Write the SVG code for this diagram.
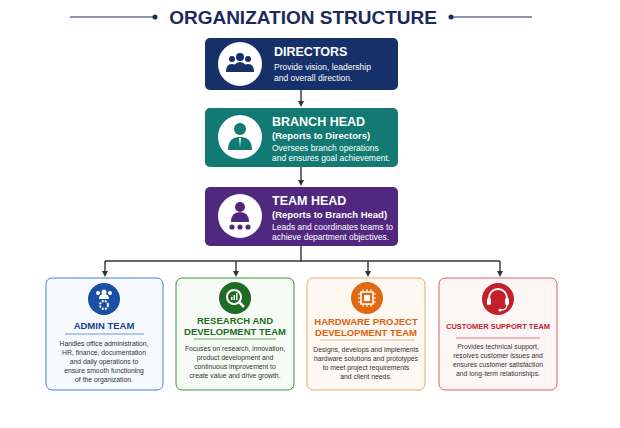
<svg xmlns="http://www.w3.org/2000/svg" width="620" height="428" viewBox="0 0 620 428">
<defs>
<style>
text{font-family:"Liberation Sans",Arial,sans-serif}
.t{font-weight:bold;fill:#fff;font-size:12.5px}
.s{fill:#fff;font-size:8.5px}
.sb{fill:#fff;font-size:9.5px;font-weight:bold}
.bt{font-weight:bold;font-size:9.5px;text-anchor:middle}
.d{font-size:6.8px;fill:#333;text-anchor:middle}
.c{stroke:#333;stroke-width:1.4;fill:none}
</style>
<marker id="a" markerWidth="6" markerHeight="6" refX="3" refY="3" orient="auto" markerUnits="userSpaceOnUse"><path d="M0,0 L6,3 L0,6 Z" fill="#333"/></marker>
</defs>
<rect width="620" height="428" fill="#fff"/>
<g id="title">
<line x1="70" y1="17" x2="154" y2="17" stroke="#1b2a5e" stroke-width="1.2"/>
<circle cx="155" cy="17" r="2.5" fill="#1b2a5e"/>
<line x1="451" y1="17" x2="532" y2="17" stroke="#1b2a5e" stroke-width="1.2"/>
<circle cx="451" cy="17" r="2.5" fill="#1b2a5e"/>
<text x="303" y="24" text-anchor="middle" font-size="19" font-weight="bold" fill="#1b2a5e">ORGANIZATION STRUCTURE</text>
</g>
<g id="connectors">
<line class="c" x1="301" y1="89" x2="301" y2="104" marker-end="url(#a)"/>
<line class="c" x1="301" y1="167" x2="301" y2="183" marker-end="url(#a)"/>
<line class="c" x1="301" y1="246" x2="301" y2="261"/>
<line class="c" x1="105" y1="261" x2="500" y2="261"/>
<line class="c" x1="105" y1="261" x2="105" y2="274" marker-end="url(#a)"/>
<line class="c" x1="236" y1="261" x2="236" y2="274" marker-end="url(#a)"/>
<line class="c" x1="368" y1="261" x2="368" y2="274" marker-end="url(#a)"/>
<line class="c" x1="500" y1="261" x2="500" y2="274" marker-end="url(#a)"/>
</g>
<g id="directors">
<rect x="205" y="38" width="193" height="52" rx="5" fill="#16306a"/>
<circle cx="240" cy="64" r="22" fill="#fff"/>
<g fill="#16306a"><circle cx="240" cy="57" r="4"/><circle cx="232" cy="59" r="3"/><circle cx="248" cy="59" r="3"/><path d="M233,72 q0,-10 7,-10 q7,0 7,10 z"/><path d="M226,72 q0,-8 6,-8 q3,0 4,2 l-2,6 z"/><path d="M254,72 q0,-8 -6,-8 q-3,0 -4,2 l2,6 z"/></g>
<text class="t" x="274" y="56">DIRECTORS</text>
<text class="s" x="274" y="70">Provide vision, leadership</text>
<text class="s" x="274" y="81">and overall direction.</text>
</g>
<g id="branch">
<rect x="205" y="108" width="193" height="59" rx="5" fill="#127a72"/>
<circle cx="240" cy="137" r="22" fill="#fff"/>
<g fill="#127a72"><circle cx="240" cy="129" r="6"/><path d="M228,150 q0,-13 12,-13 q12,0 12,13 z"/></g>
<path d="M239,138 l1,9 l1,-9 z" fill="#fff"/>
<text class="t" x="272" y="126">BRANCH HEAD</text>
<text class="sb" x="272" y="139">(Reports to Directors)</text>
<text class="s" x="272" y="151">Oversees branch operations</text>
<text class="s" x="272" y="161">and ensures goal achievement.</text>
</g>
<g id="teamhead">
<rect x="205" y="187" width="193" height="59" rx="5" fill="#51287f"/>
<circle cx="240" cy="216" r="22" fill="#fff"/>
<g fill="#51287f"><circle cx="240" cy="207" r="5"/><path d="M231,222 q0,-10 9,-10 q9,0 9,10 z"/><circle cx="232" cy="227" r="2.6"/><circle cx="240" cy="227" r="2.6"/><circle cx="248" cy="227" r="2.6"/></g>
<text class="t" x="272" y="205">TEAM HEAD</text>
<text class="sb" x="272" y="218">(Reports to Branch Head)</text>
<text class="s" x="272" y="230">Leads and coordinates teams to</text>
<text class="s" x="272" y="240">achieve department objectives.</text>
</g>
<g id="admin">
<rect x="46" y="278" width="117" height="112" rx="6" fill="#f6f9fe" stroke="#4a7fd0" stroke-width="1"/>
<circle cx="104" cy="299" r="16" fill="#1a4fa3"/>
<g fill="#fff"><circle cx="104" cy="292" r="2.5"/><circle cx="98" cy="293" r="2"/><circle cx="110" cy="293" r="2"/><path d="M99,299 q0,-5 5,-5 q5,0 5,5z"/><circle cx="104" cy="305" r="4" fill="none" stroke="#fff" stroke-width="2" stroke-dasharray="2 1.2"/></g>
<text class="bt" x="104" y="329" fill="#1a3f8f">ADMIN TEAM</text>
<line x1="65" y1="334" x2="144" y2="334" stroke="#4a7fd0" stroke-width="0.8"/>
<text class="d" x="104" y="346">Handles office administration,</text>
<text class="d" x="104" y="355">HR, finance, documentation</text>
<text class="d" x="104" y="364">and daily operations to</text>
<text class="d" x="104" y="373">ensure smooth functioning</text>
<text class="d" x="104" y="382">of the organization.</text>
</g>
<g id="rnd">
<rect x="176" y="278" width="118" height="112" rx="6" fill="#f6fbf5" stroke="#3f8f3f" stroke-width="1"/>
<circle cx="235" cy="298" r="16" fill="#1f6b25"/>
<circle cx="234" cy="297" r="7" fill="none" stroke="#fff" stroke-width="2"/>
<line x1="239" y1="302" x2="244" y2="307" stroke="#fff" stroke-width="2.5"/>
<g fill="#fff"><rect x="231" y="297" width="1.5" height="3"/><rect x="233.5" y="295" width="1.5" height="5"/><rect x="236" y="293" width="1.5" height="7"/></g>
<text class="bt" x="235" y="324" fill="#1f6b25">RESEARCH AND</text>
<text class="bt" x="235" y="335" fill="#1f6b25">DEVELOPMENT TEAM</text>
<line x1="194" y1="339" x2="276" y2="339" stroke="#3f8f3f" stroke-width="0.8"/>
<text class="d" x="235" y="351">Focuses on research, innovation,</text>
<text class="d" x="235" y="360">product development and</text>
<text class="d" x="235" y="369">continuous improvement to</text>
<text class="d" x="235" y="378">create value and drive growth.</text>
</g>
<g id="hardware">
<rect x="307" y="278" width="118" height="112" rx="6" fill="#fef8f2" stroke="#f0a868" stroke-width="1"/>
<circle cx="367" cy="298" r="16" fill="#e06a12"/>
<rect x="361" y="292" width="12" height="12" fill="none" stroke="#fff" stroke-width="1.5"/>
<rect x="364" y="295" width="6" height="6" fill="#fff"/>
<g stroke="#fff" stroke-width="1"><path d="M363,289v3M367,289v3M371,289v3M363,304v3M367,304v3M371,304v3M358,294h3M358,298h3M358,302h3M373,294h3M373,298h3M373,302h3"/></g>
<text class="bt" x="366" y="325" fill="#d9630f">HARDWARE PROJECT</text>
<text class="bt" x="366" y="336" fill="#d9630f">DEVELOPMENT TEAM</text>
<line x1="320" y1="340" x2="415" y2="340" stroke="#f0a868" stroke-width="0.8"/>
<text class="d" x="366" y="352">Designs, develops and implements</text>
<text class="d" x="366" y="361">hardware solutions and prototypes</text>
<text class="d" x="366" y="370">to meet project requirements</text>
<text class="d" x="366" y="379">and client needs.</text>
</g>
<g id="support">
<rect x="439" y="278" width="118" height="112" rx="6" fill="#fdf6f6" stroke="#d9606a" stroke-width="1"/>
<circle cx="498" cy="299" r="16" fill="#c4202b"/>
<path d="M489,302 v-4 a9,9 0 0 1 18,0 v4" fill="none" stroke="#fff" stroke-width="2"/>
<rect x="487" y="298" width="4" height="7" rx="1.5" fill="#fff"/><rect x="505" y="298" width="4" height="7" rx="1.5" fill="#fff"/>
<path d="M507,305 q0,5 -6,5" fill="none" stroke="#fff" stroke-width="1.3"/><circle cx="500" cy="310" r="1.5" fill="#fff"/>
<text class="bt" x="498" y="329" fill="#c4202b" style="font-size:8px" textLength="104" lengthAdjust="spacingAndGlyphs">CUSTOMER SUPPORT TEAM</text>
<line x1="456" y1="338" x2="540" y2="338" stroke="#d9606a" stroke-width="0.8"/>
<text class="d" x="498" y="349">Provides technical support,</text>
<text class="d" x="498" y="358">resolves customer issues and</text>
<text class="d" x="498" y="367">ensures customer satisfaction</text>
<text class="d" x="498" y="376">and long-term relationships.</text>
</g>
</svg>
